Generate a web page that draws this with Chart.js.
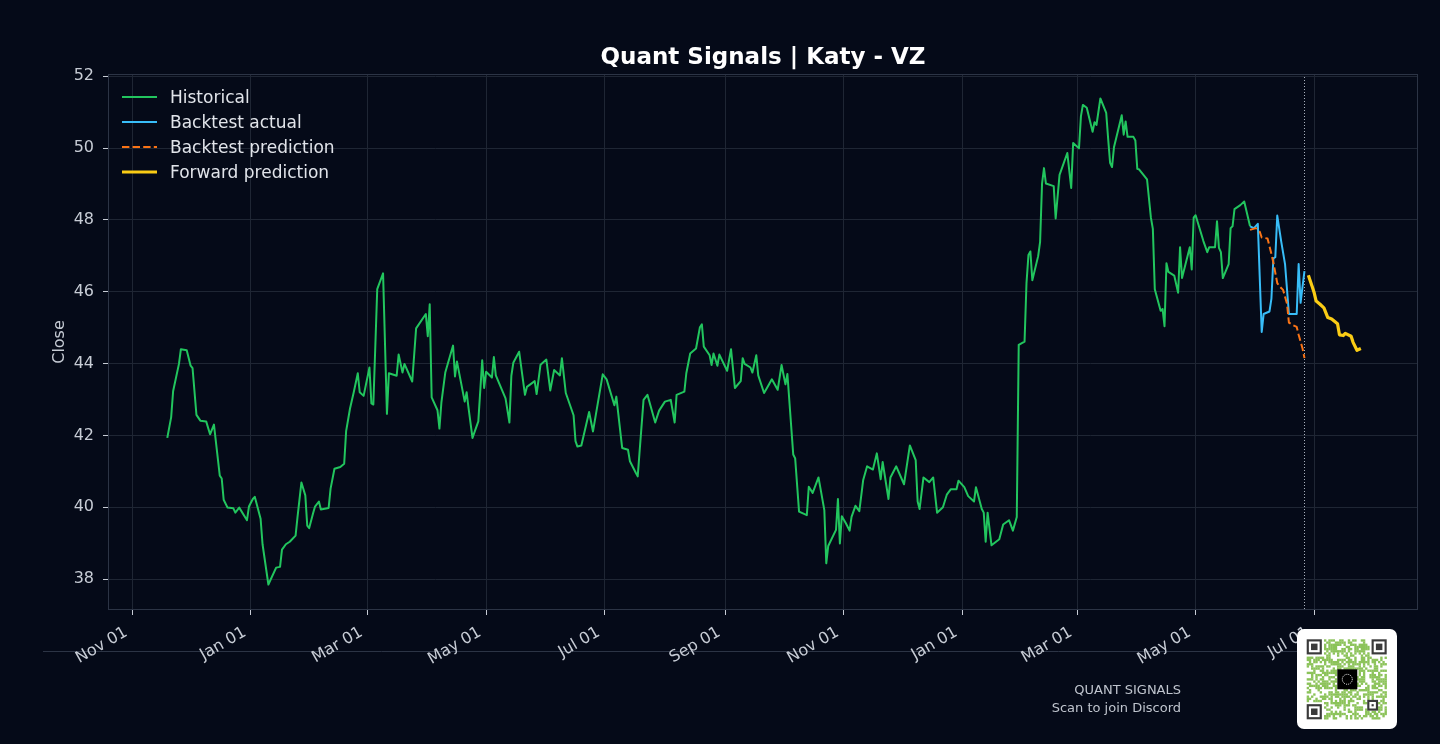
<!DOCTYPE html>
<html>
<head>
<meta charset="utf-8">
<title>Quant Signals | Katy - VZ</title>
<script src="https://cdn.jsdelivr.net/npm/chart.js@4.4.1/dist/chart.umd.min.js"></script>
<style>
  html, body { margin: 0; padding: 0; background: #050a18; }
  canvas { display: block; }
</style>
</head>
<body>
<canvas id="chart" width="1440" height="744"></canvas>
<script>
// ---------------- DATA ----------------
const histDates = [
  '2023-11-19','2023-11-21','2023-11-22','2023-11-25','2023-11-26','2023-11-29',
  '2023-12-01','2023-12-02','2023-12-04','2023-12-06','2023-12-09','2023-12-11','2023-12-13','2023-12-16','2023-12-17','2023-12-18','2023-12-20','2023-12-23','2023-12-24','2023-12-26','2023-12-30','2023-12-31',
  '2024-01-02','2024-01-03','2024-01-06','2024-01-07','2024-01-10','2024-01-14','2024-01-16','2024-01-17','2024-01-19','2024-01-21','2024-01-24','2024-01-25','2024-01-27','2024-01-29','2024-01-30','2024-01-31',
  '2024-02-02','2024-02-03','2024-02-05','2024-02-06','2024-02-10','2024-02-11','2024-02-13','2024-02-16','2024-02-18','2024-02-19','2024-02-21','2024-02-23','2024-02-25','2024-02-26','2024-02-28',
  '2024-03-02','2024-03-03','2024-03-04','2024-03-06','2024-03-09','2024-03-11','2024-03-12','2024-03-16','2024-03-17','2024-03-19','2024-03-20','2024-03-24','2024-03-26','2024-03-31',
  '2024-04-01','2024-04-02','2024-04-03','2024-04-06','2024-04-07','2024-04-08','2024-04-10','2024-04-14','2024-04-15','2024-04-16','2024-04-19','2024-04-20','2024-04-21','2024-04-22','2024-04-24','2024-04-27','2024-04-29','2024-04-30',
  '2024-05-01','2024-05-04','2024-05-05','2024-05-06','2024-05-11','2024-05-13','2024-05-14','2024-05-15','2024-05-18','2024-05-21','2024-05-22','2024-05-26','2024-05-27','2024-05-29',
  '2024-06-01','2024-06-03','2024-06-05','2024-06-08','2024-06-09','2024-06-11','2024-06-15','2024-06-16','2024-06-17','2024-06-19','2024-06-23','2024-06-25','2024-06-30',
  '2024-07-02','2024-07-06','2024-07-07','2024-07-10','2024-07-13','2024-07-14','2024-07-17','2024-07-18','2024-07-21','2024-07-23','2024-07-27','2024-07-29',
  '2024-08-01','2024-08-04','2024-08-06','2024-08-07','2024-08-11','2024-08-12','2024-08-14','2024-08-17','2024-08-19','2024-08-20','2024-08-21','2024-08-24','2024-08-25','2024-08-26','2024-08-28','2024-08-29',
  '2024-09-02','2024-09-04','2024-09-06','2024-09-09','2024-09-10','2024-09-11','2024-09-14','2024-09-15','2024-09-17','2024-09-18','2024-09-21','2024-09-23','2024-09-25','2024-09-28','2024-09-30',
  '2024-10-02','2024-10-03','2024-10-06','2024-10-07','2024-10-09','2024-10-13','2024-10-14','2024-10-16','2024-10-19','2024-10-22','2024-10-23','2024-10-24','2024-10-28','2024-10-29','2024-10-30','2024-10-31',
  '2024-11-02','2024-11-04','2024-11-05','2024-11-07','2024-11-09','2024-11-11','2024-11-13','2024-11-16','2024-11-18','2024-11-20','2024-11-21','2024-11-24','2024-11-25','2024-11-28',
  '2024-12-02','2024-12-05','2024-12-08','2024-12-09','2024-12-10','2024-12-12','2024-12-15','2024-12-17','2024-12-19','2024-12-22','2024-12-24','2024-12-26','2024-12-29','2024-12-30',
  '2025-01-02','2025-01-04','2025-01-07','2025-01-08','2025-01-11','2025-01-12','2025-01-13','2025-01-14','2025-01-16','2025-01-20','2025-01-22','2025-01-25','2025-01-27','2025-01-29','2025-01-30',
  '2025-02-02','2025-02-03','2025-02-04','2025-02-05','2025-02-06','2025-02-09','2025-02-10','2025-02-11','2025-02-12','2025-02-13','2025-02-17','2025-02-18','2025-02-20','2025-02-24','2025-02-26','2025-02-27',
  '2025-03-02','2025-03-03','2025-03-04','2025-03-06','2025-03-09','2025-03-10','2025-03-11','2025-03-13','2025-03-16','2025-03-17','2025-03-18','2025-03-19','2025-03-20','2025-03-24','2025-03-25','2025-03-26','2025-03-27','2025-03-30','2025-03-31',
  '2025-04-01','2025-04-02','2025-04-06','2025-04-08','2025-04-09','2025-04-10','2025-04-13','2025-04-14','2025-04-15','2025-04-16','2025-04-17','2025-04-20','2025-04-22','2025-04-23','2025-04-24','2025-04-28','2025-04-29','2025-04-30',
  '2025-05-01','2025-05-05','2025-05-07','2025-05-08','2025-05-11','2025-05-12','2025-05-13','2025-05-14','2025-05-15','2025-05-18','2025-05-19','2025-05-20','2025-05-21','2025-05-24','2025-05-26','2025-05-29'
];
const histClose = [
  41.93,42.51,43.23,43.99,44.40,44.37,
  43.94,43.87,42.57,42.41,42.39,42.03,42.30,40.88,40.80,40.21,39.99,39.97,39.85,39.99,39.64,40.02,
  40.23,40.29,39.68,38.97,37.85,38.32,38.34,38.82,38.97,39.04,39.21,39.73,40.69,40.33,39.49,39.42,
  39.83,40.02,40.16,39.94,39.98,40.52,41.07,41.12,41.21,42.12,42.75,43.22,43.73,43.20,43.10,
  43.89,42.89,42.86,46.07,46.51,42.60,43.73,43.66,44.25,43.75,43.99,43.50,44.98,45.38,
  44.76,45.65,43.06,42.70,42.19,42.91,43.75,44.50,43.64,44.06,43.22,42.94,43.20,42.75,41.93,42.39,44.09,43.32,
  43.77,43.61,44.18,43.67,43.03,42.36,43.66,44.02,44.33,43.13,43.35,43.51,43.15,43.97,
  44.11,43.25,43.82,43.67,44.15,43.18,42.56,41.84,41.69,41.72,42.65,42.11,43.70,
  43.56,42.84,43.08,41.65,41.60,41.28,40.96,40.86,42.99,43.13,42.36,42.69,
  42.94,42.99,42.36,43.13,43.22,43.73,44.28,44.42,45.01,45.09,44.47,44.23,43.96,44.28,43.94,44.25,
  43.80,44.40,43.32,43.51,44.15,43.99,43.89,43.75,44.23,43.67,43.18,43.37,43.56,43.27,43.96,
  43.42,43.71,41.47,41.36,39.88,39.78,40.57,40.40,40.83,39.92,38.44,38.92,39.37,40.23,38.99,39.75,
  39.56,39.35,39.73,40.04,39.89,40.76,41.14,41.05,41.50,40.78,41.26,40.23,40.83,41.14,
  40.64,41.72,41.31,40.16,39.95,40.83,40.70,40.83,39.85,40.00,40.35,40.50,40.50,40.74,
  40.56,40.31,40.16,40.56,39.95,39.85,39.04,39.85,38.94,39.11,39.52,39.64,39.35,39.73,44.52,
  44.61,46.24,47.02,47.12,46.32,46.99,47.39,49.01,49.44,49.01,48.94,48.04,49.25,49.86,48.89,50.14,
  49.99,50.88,51.20,51.12,50.45,50.72,50.64,51.38,50.98,50.26,49.59,49.47,50.02,50.91,50.37,50.74,50.31,50.31,50.21,
  49.42,49.40,49.13,48.06,47.75,46.07,45.47,45.52,45.04,46.79,46.55,46.45,45.97,47.24,46.38,47.24,46.62,48.06,
  48.13,47.41,47.10,47.24,47.24,47.96,47.22,47.10,46.38,46.77,47.77,47.82,48.30,48.41,48.51,47.82
];

const backtestDates = ['2025-05-29','2025-05-31','2025-06-02','2025-06-04','2025-06-05','2025-06-08','2025-06-09','2025-06-10','2025-06-11','2025-06-12','2025-06-14','2025-06-16','2025-06-18','2025-06-22','2025-06-23','2025-06-24','2025-06-25','2025-06-26'];
const backtestActual = [47.82,47.77,47.89,44.88,45.38,45.45,45.81,46.93,46.96,48.12,47.41,46.77,45.38,45.38,46.77,45.69,46.14,46.57];

const predDates = ['2025-05-29','2025-06-01','2025-06-03','2025-06-04','2025-06-07','2025-06-09','2025-06-10','2025-06-12','2025-06-13','2025-06-15','2025-06-17','2025-06-18','2025-06-20','2025-06-22','2025-06-23','2025-06-25','2025-06-26'];
const backtestPred = [47.72,47.77,47.67,47.51,47.48,47.05,46.81,46.24,46.16,46.05,45.67,45.14,45.07,45.02,44.80,44.42,44.15];

const forwardDates = ['2025-06-28','2025-06-30','2025-07-01','2025-07-02','2025-07-04','2025-07-06','2025-07-08','2025-07-10','2025-07-13','2025-07-14','2025-07-16','2025-07-17','2025-07-20','2025-07-21','2025-07-23','2025-07-25'];
const forwardPred = [46.46,46.14,45.97,45.74,45.65,45.55,45.28,45.24,45.11,44.80,44.78,44.84,44.76,44.59,44.37,44.42];

const cutoffDate = '2025-06-26';
const xTickDates = ['2023-11-01','2024-01-01','2024-03-01','2024-05-01','2024-07-01','2024-09-01','2024-11-01','2025-01-01','2025-03-01','2025-05-01','2025-07-01'];
const yTicks = [38,40,42,44,46,48,50,52];
const seriesLabels = ['Historical','Backtest actual','Backtest prediction','Forward prediction'];
const titleText = 'Quant Signals | Katy - VZ';
const yAxisTitle = 'Close';
const footerLines = ['QUANT SIGNALS','Scan to join Discord'];

// ---------------- HELPERS ----------------
const MONTHS = ['Jan','Feb','Mar','Apr','May','Jun','Jul','Aug','Sep','Oct','Nov','Dec'];
const toMs = s => { const p = s.split('-').map(Number); return Date.UTC(p[0], p[1]-1, p[2]); };
const fmtDate = ms => { const d = new Date(ms); return MONTHS[d.getUTCMonth()] + ' ' + String(d.getUTCDate()).padStart(2,'0'); };
const pts = (ds, vs) => ds.map((d, i) => ({ x: toMs(d), y: vs[i] }));
const DAY = 86400000;

const BG = '#050a18';
const GRID = '#1f2634';
const SPINE = '#2c3445';
const TICK = '#c7ccd5';
const FONT = "'DejaVu Sans', 'Liberation Sans', sans-serif";
const COLORS = ['#22c55e', '#38bdf8', '#f97316', '#facc15'];
const WIDTHS = [2, 2, 2, 3.2];
const DASHES = [[], [], [7.4, 3.2], []];

Chart.defaults.font.family = FONT;

const decor = {
  id: 'decor',
  beforeDraw(chart) {
    const c = chart.ctx;
    c.save();
    c.fillStyle = BG;
    c.fillRect(0, 0, chart.width, chart.height);
    c.strokeStyle = SPINE;
    c.lineWidth = 1;
    c.beginPath();
    c.moveTo(43, 651.5);
    c.lineTo(1397, 651.5);
    c.stroke();
    c.restore();
  },
  beforeDatasetsDraw(chart) {
    const c = chart.ctx, a = chart.chartArea;
    const x = Math.round(chart.scales.x.getPixelForValue(toMs(cutoffDate))) + 0.5;
    c.save();
    c.strokeStyle = '#aab1bd';
    c.lineWidth = 1;
    c.setLineDash([1, 2]);
    c.beginPath();
    c.moveTo(x, a.top);
    c.lineTo(x, a.bottom);
    c.stroke();
    c.restore();
  },
  afterDraw(chart) {
    const c = chart.ctx, a = chart.chartArea;
    c.save();
    // spines
    c.strokeStyle = SPINE;
    c.lineWidth = 1;
    c.strokeRect(a.left + 0.5, a.top + 0.5, a.right - a.left - 1, a.bottom - a.top - 1);

    // title
    c.fillStyle = '#ffffff';
    c.font = 'bold 23px ' + FONT;
    c.textAlign = 'center';
    c.textBaseline = 'alphabetic';
    c.fillText(titleText, (a.left + a.right) / 2, 63.5);

    // y axis title
    c.save();
    c.translate(64, (a.top + a.bottom) / 2);
    c.rotate(-Math.PI / 2);
    c.fillStyle = TICK;
    c.font = '16px ' + FONT;
    c.textAlign = 'center';
    c.fillText(yAxisTitle, 0, 0);
    c.restore();

    // legend
    c.font = '17px ' + FONT;
    c.textAlign = 'left';
    chart.data.datasets.forEach((ds, i) => {
      const y = 97 + i * 25;
      c.strokeStyle = ds.borderColor;
      c.lineWidth = ds.borderWidth;
      c.setLineDash(ds.borderDash || []);
      c.beginPath();
      c.moveTo(122, y);
      c.lineTo(157, y);
      c.stroke();
      c.setLineDash([]);
      c.fillStyle = '#e1e4ea';
      c.fillText(ds.label, 170, y + 6);
    });

    // footer
    c.fillStyle = '#bfc4cd';
    c.font = '13px ' + FONT;
    c.textAlign = 'right';
    c.fillText(footerLines[0], 1181, 694);
    c.fillText(footerLines[1], 1181, 712);

    // QR badge
    const bx = 1297, by = 629, bw = 100, bh = 100, r = 7;
    c.fillStyle = '#ffffff';
    c.beginPath();
    c.moveTo(bx + r, by);
    c.arcTo(bx + bw, by, bx + bw, by + bh, r);
    c.arcTo(bx + bw, by + bh, bx, by + bh, r);
    c.arcTo(bx, by + bh, bx, by, r);
    c.arcTo(bx, by, bx + bw, by, r);
    c.closePath();
    c.fill();
    const N = 37, qx = 1306.7, qy = 639.3, m = 80 / N;
    const inFinder = (i, j) => (i < 8 && j < 8) || (i < 8 && j >= N - 8) || (i >= N - 8 && j < 8);
    const inAlign = (i, j) => i >= 28 && i <= 32 && j >= 28 && j <= 32;
    const inLogo = (i, j) => i >= 14 && i <= 22 && j >= 14 && j <= 22;
    c.fillStyle = '#8cc35a';
    for (let i = 0; i < N; i++) {
      for (let j = 0; j < N; j++) {
        if (inFinder(i, j) || inAlign(i, j) || inLogo(i, j)) continue;
        let on;
        if (i === 6) on = j % 2 === 0;
        else if (j === 6) on = i % 2 === 0;
        else {
          let h = (i * 374761393 + j * 668265263) | 0;
          h = Math.imul(h ^ (h >>> 13), 1274126177);
          h = (h ^ (h >>> 16)) >>> 0;
          on = (h % 100) < 55;
        }
        if (on) c.fillRect(qx + j * m, qy + i * m, m + 0.2, m + 0.2);
      }
    }
    const finder = (ci, cj) => {
      const x0 = qx + cj * m, y0 = qy + ci * m;
      c.fillStyle = '#3a3a3a';
      c.fillRect(x0, y0, 7 * m, 7 * m);
      c.fillStyle = '#ffffff';
      c.fillRect(x0 + m, y0 + m, 5 * m, 5 * m);
      c.fillStyle = '#3a3a3a';
      c.fillRect(x0 + 2 * m, y0 + 2 * m, 3 * m, 3 * m);
    };
    finder(0, 0); finder(0, N - 7); finder(N - 7, 0);
    // alignment pattern
    c.fillStyle = '#3a3a3a';
    c.fillRect(qx + 28 * m, qy + 28 * m, 5 * m, 5 * m);
    c.fillStyle = '#ffffff';
    c.fillRect(qx + 29 * m, qy + 29 * m, 3 * m, 3 * m);
    c.fillStyle = '#3a3a3a';
    c.fillRect(qx + 30 * m, qy + 30 * m, m, m);
    // center logo
    c.fillStyle = '#000000';
    c.fillRect(1337.3, 669.3, 20, 20);
    c.strokeStyle = '#ffffff';
    c.lineWidth = 1;
    c.setLineDash([1, 1]);
    c.beginPath();
    c.arc(1347.3, 679.3, 5, 0, Math.PI * 2);
    c.stroke();
    c.setLineDash([]);
    c.restore();
  }
};

const seriesData = [
  pts(histDates, histClose),
  pts(backtestDates, backtestActual),
  pts(predDates, backtestPred),
  pts(forwardDates, forwardPred)
];

new Chart(document.getElementById('chart'), {
  type: 'line',
  data: {
    datasets: seriesData.map((d, i) => ({
      label: seriesLabels[i],
      data: d,
      borderColor: COLORS[i],
      backgroundColor: COLORS[i],
      borderWidth: WIDTHS[i],
      borderDash: DASHES[i],
      fill: false,
      order: 4 - i
    }))
  },
  options: {
    responsive: false,
    animation: false,
    devicePixelRatio: 1,
    elements: {
      point: { radius: 0, hoverRadius: 0 },
      line: { tension: 0, borderJoinStyle: 'round', borderCapStyle: 'butt' }
    },
    layout: { padding: { top: 74, right: 22, left: 0, bottom: 0 } },
    plugins: { legend: { display: false }, title: { display: false }, tooltip: { enabled: false } },
    events: [],
    scales: {
      x: {
        type: 'linear',
        min: toMs('2023-11-01') - 12.5 * DAY,
        max: toMs('2023-11-01') + 661.4 * DAY,
        afterFit: s => { s.height = 134; },
        afterBuildTicks: s => { s.ticks = xTickDates.map(d => ({ value: toMs(d) })); },
        ticks: {
          callback: v => fmtDate(v),
          minRotation: 30, maxRotation: 30, autoSkip: false,
          color: TICK, font: { size: 16, family: FONT }, padding: 8, labelOffset: -6
        },
        grid: { color: GRID, tickColor: TICK, tickLength: 5, lineWidth: 1 },
        border: { display: false }
      },
      y: {
        min: 37.14, max: 52.06,
        afterFit: s => { s.width = 108; },
        afterBuildTicks: s => { s.ticks = yTicks.map(v => ({ value: v })); },
        ticks: { callback: v => String(v), color: TICK, font: { size: 16, family: FONT }, padding: 9 },
        grid: { color: GRID, tickColor: TICK, tickLength: 5, lineWidth: 1 },
        border: { display: false }
      }
    }
  },
  plugins: [decor]
});
</script>
</body>
</html>
